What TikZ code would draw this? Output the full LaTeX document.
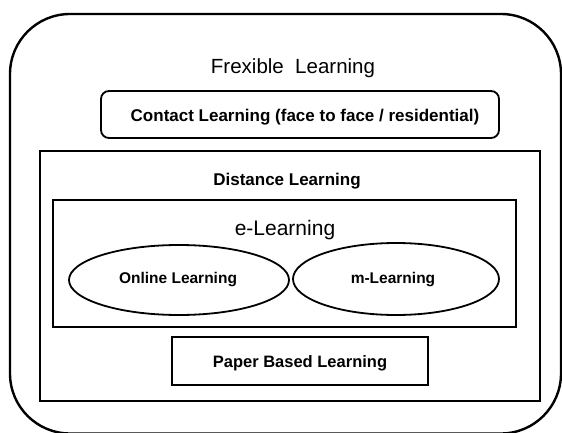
\documentclass[tikz,border=0pt]{standalone}
\usepackage{fontspec}
\setmainfont{Liberation Sans}
\usetikzlibrary{shapes.geometric}
\tikzset{
  frame/.style={draw=black, line width=2.4pt, rounded corners=60pt, inner sep=0pt},
  boxr/.style={draw=black, line width=1.8pt, inner sep=0pt},
  roundbox/.style={draw=black, line width=1.8pt, rounded corners=8pt, inner sep=0pt},
  oval/.style={draw=black, line width=1.8pt, ellipse, inner sep=0pt},
  lbl/.style={inner sep=0pt, text=black},
}
\begin{document}
\begin{tikzpicture}[x=1pt,y=-1pt]
\useasboundingbox (0,0) rectangle (562,433);
% outer frame
\node[frame, minimum width=551pt, minimum height=419.5pt] (outer) at (285.5,223.75) {};
\node[lbl, font=\fontsize{20.5}{24}\selectfont] (title) at (293,68) {Frexible\ \ Learning};
% contact
\node[roundbox, minimum width=398pt, minimum height=47pt] (contact) at (300,114.5) {};
\node[lbl, font=\bfseries\fontsize{17}{20}\selectfont] (contacttxt) at (305,117) {Contact Learning (face to face / residential)};
% distance
\node[boxr, minimum width=500pt, minimum height=250pt] (distance) at (290,276) {};
\node[lbl, font=\bfseries\fontsize{17}{20}\selectfont] (distancetxt) at (287,181) {Distance Learning};
% e-learning
\node[boxr, minimum width=463pt, minimum height=127pt] (ebox) at (284.5,263.5) {};
\node[lbl, font=\fontsize{21}{25}\selectfont] (etxt) at (285,230) {e-Learning};
% ellipses
\node[oval, minimum width=220pt, minimum height=70pt] (online) at (179,280) {};
\node[lbl, font=\bfseries\fontsize{15.5}{18}\selectfont] (onlinetxt) at (178,280) {Online Learning};
\node[oval, minimum width=206pt, minimum height=72pt] (mlearn) at (396,279) {};
\node[lbl, font=\bfseries\fontsize{15.5}{18}\selectfont] (mtxt) at (393,280) {m-Learning};
% paper
\node[boxr, minimum width=256pt, minimum height=48pt] (paper) at (300,361) {};
\node[lbl, font=\bfseries\fontsize{16.5}{20}\selectfont] (papertxt) at (300,363) {Paper Based Learning};
\end{tikzpicture}
\end{document}
